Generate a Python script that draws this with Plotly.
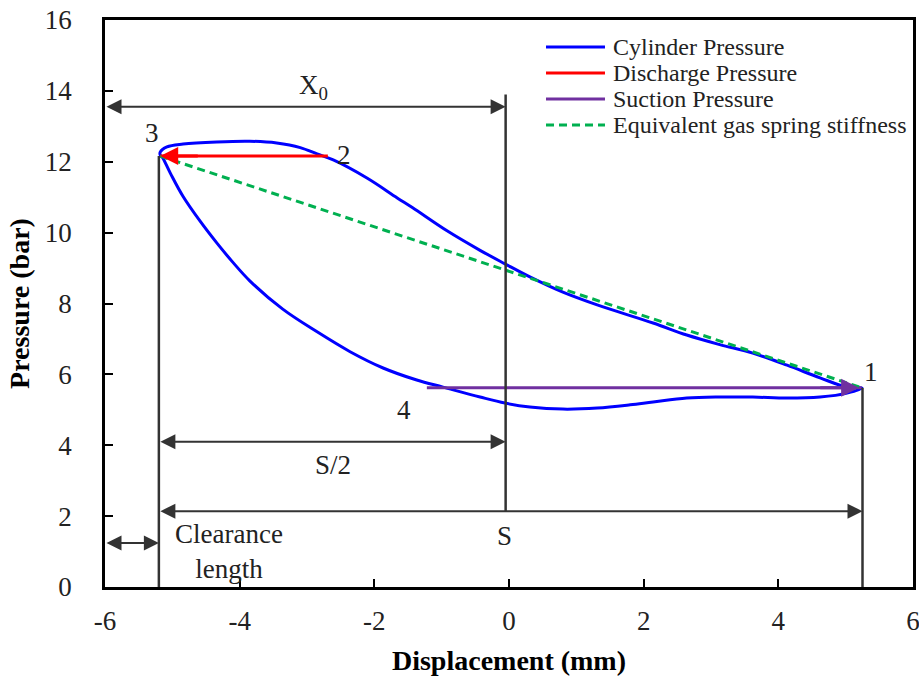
import plotly.graph_objects as go

# ---- data ----
# compression branch (1 -> 2 -> 3), going left along the top
x_upper = [5.24, 5.02, 4.62, 4.13, 3.62, 3.13, 2.64, 2.14, 1.31, 0.80, 0.31, -0.06,
           -0.43, -0.92, -1.43, -1.66, -2.11, -2.61, -2.85, -3.10, -3.45, -3.85, -4.34,
           -4.84, -5.08, -5.18]
y_upper = [5.62, 5.64, 5.90, 6.26, 6.60, 6.84, 7.11, 7.45, 7.96, 8.32, 8.75, 9.12,
           9.50, 10.05, 10.70, 10.98, 11.54, 12.05, 12.22, 12.40, 12.53, 12.58, 12.56,
           12.50, 12.42, 12.27]
# expansion + suction branch (3 -> 4 -> 1)
x_lower = [-5.18, -5.15, -5.03, -4.84, -4.59, -4.34, -4.10, -3.85, -3.36, -2.85, -2.36,
           -1.87, -1.37, -0.98, -0.43, -0.06, 0.31, 0.80, 1.31, 1.80, 2.14, 2.64, 3.13,
           3.62, 4.13, 4.62, 5.02, 5.24]
y_lower = [12.19, 12.13, 11.68, 11.02, 10.33, 9.71, 9.16, 8.64, 7.84, 7.20, 6.64, 6.18,
           5.84, 5.64, 5.36, 5.19, 5.08, 5.02, 5.05, 5.14, 5.22, 5.33, 5.36, 5.36, 5.33,
           5.36, 5.47, 5.62]

x_cyl = x_upper + x_lower
y_cyl = y_upper + y_lower

x_discharge = [-2.69, -5.18]
y_discharge = [12.16, 12.16]
x_suction = [-1.22, 5.24]
y_suction = [5.62, 5.62]
x_spring = [-5.18, 5.24]
y_spring = [12.16, 5.62]

X3 = -5.2
X1 = 5.25
X0_end = -0.05

x_ticks = [-6, -4, -2, 0, 2, 4, 6]
x_tick_text = ["-6", "-4", "-2", "0", "2", "4", "6"]
y_ticks = [0, 2, 4, 6, 8, 10, 12, 14, 16]

series_names = ["Cylinder Pressure", "Discharge Pressure", "Suction Pressure",
                "Equivalent gas spring stiffness"]
series_colors = ["#0000FF", "#FF0000", "#7030A0", "#00B050"]
series_dash = ["solid", "solid", "solid", "8px,5px"]

FONT = "Liberation Serif"
DARK = "#333333"
TXT = "#222222"

fig = go.Figure()
fig.add_trace(go.Scatter(x=x_cyl, y=y_cyl, mode="lines", name=series_names[0],
                         line=dict(color=series_colors[0], width=3, shape="spline", smoothing=1.0)))
fig.add_trace(go.Scatter(x=x_discharge, y=y_discharge, mode="lines", name=series_names[1],
                         line=dict(color=series_colors[1], width=3)))
fig.add_trace(go.Scatter(x=x_suction, y=y_suction, mode="lines", name=series_names[2],
                         line=dict(color=series_colors[2], width=3)))
fig.add_trace(go.Scatter(x=x_spring, y=y_spring, mode="lines", name=series_names[3],
                         line=dict(color=series_colors[3], width=3, dash=series_dash[3])))

# vertical reference lines
fig.add_shape(type="line", x0=X3, x1=X3, y0=0, y1=12.16, line=dict(color=DARK, width=2.5))
fig.add_shape(type="line", x0=X1, x1=X1, y0=0, y1=5.62, line=dict(color=DARK, width=2.5))
fig.add_shape(type="line", x0=X0_end, x1=X0_end, y0=2.14, y1=13.9, line=dict(color=DARK, width=2.5))

def darrow(x0, x1, y):
    fig.add_annotation(x=x1, y=y, ax=x0, ay=y, xref="x", yref="y", axref="x", ayref="y",
                       text="", showarrow=True, arrowhead=2, arrowside="end+start",
                       arrowsize=1.5, arrowwidth=2, arrowcolor=DARK)

darrow(-6, X0_end, 13.55)
darrow(X3, X0_end, 4.1)
darrow(X3, X1, 2.14)
darrow(-6, X3, 1.24)

# arrowheads of discharge / suction lines
fig.add_annotation(x=-5.18, y=12.16, ax=-4.6, ay=12.16, xref="x", yref="y", axref="x", ayref="y",
                   text="", showarrow=True, arrowhead=2, arrowsize=1.2, arrowwidth=3,
                   arrowcolor="#FF0000")
fig.add_annotation(x=5.2, y=5.62, ax=4.6, ay=5.62, xref="x", yref="y", axref="x", ayref="y",
                   text="", showarrow=True, arrowhead=2, arrowsize=1.2, arrowwidth=3,
                   arrowcolor="#7030A0")

def label(x, y, t, size=27):
    fig.add_annotation(x=x, y=y, xref="x", yref="y", text=t, showarrow=False,
                       font=dict(family=FONT, size=size, color=TXT))

label(-2.91, 14.1, "X<sub>0</sub>")
label(-5.3, 12.8, "3")
label(-2.45, 12.2, "2")
label(5.37, 6.07, "1")
label(-1.56, 5.0, "4")
label(-2.61, 3.44, "S/2")
label(-0.06, 1.44, "S")
label(-4.16, 0.99, "Clearance<br>length")
label(-5.22, -1.0, "X<sub>3</sub>")
label(5.38, -1.0, "X<sub>1</sub>")

# legend drawn as a key in the top-right corner
leg_rows = [0.9524, 0.9065, 0.8607, 0.8148]
for name, col, dash, yy in zip(series_names, series_colors, series_dash, leg_rows):
    fig.add_shape(type="line", xref="paper", yref="paper", x0=0.5458, x1=0.6188, y0=yy, y1=yy,
                  line=dict(color=col, width=3, dash=dash))
    fig.add_annotation(xref="paper", yref="paper", x=0.6262, y=yy, xanchor="left",
                       yanchor="middle", text=name, showarrow=False,
                       font=dict(family=FONT, size=24, color=TXT))

fig.update_layout(
    width=919, height=676,
    margin=dict(l=105, r=6, t=20, b=89),
    paper_bgcolor="white", plot_bgcolor="white",
    font=dict(family=FONT, color=TXT),
    showlegend=False,
    xaxis=dict(range=[-6, 6], tickvals=x_ticks, ticktext=x_tick_text, ticks="inside",
               ticklen=8, tickwidth=2, automargin=False, ticklabeloverflow="allow",
               tickcolor="black", showline=True, linecolor="black", linewidth=2.5,
               mirror=True, showgrid=False, zeroline=False, ticklabelstandoff=8,
               tickfont=dict(family=FONT, size=27, color=TXT),
               title=dict(text="<b>Displacement (mm)</b>", font=dict(family=FONT, size=28, color="black"),
                          standoff=19)),
    yaxis=dict(range=[0, 16], tickvals=y_ticks, ticks="inside", ticklen=8, tickwidth=2,
               tickcolor="black", showline=True, linecolor="black", linewidth=2.5,
               mirror=True, showgrid=False, zeroline=False, ticklabelstandoff=25,
               automargin=False, ticklabeloverflow="allow",
               tickfont=dict(family=FONT, size=27, color=TXT),
               title=dict(text="<b>Pressure (bar)</b>", font=dict(family=FONT, size=28, color="black"),
                          standoff=8)),
)

fig.write_html("out.html", config={"displayModeBar": False},
               post_script="document.body.style.margin='0';")
